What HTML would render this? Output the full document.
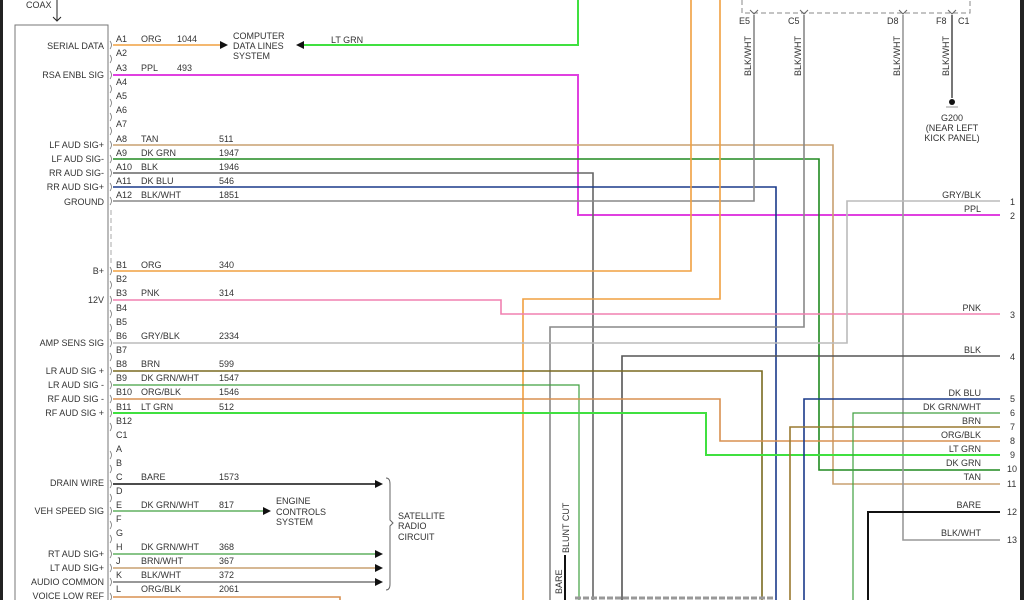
<!DOCTYPE html>
<html><head><meta charset="utf-8"><style>
html,body{margin:0;padding:0;background:#fff;}
svg{display:block;}
text{font-family:"Liberation Sans",sans-serif;font-size:9px;fill:#333;}
.r{text-anchor:end;}
</style></head><body>
<svg width="1024" height="600" viewBox="0 0 1024 600" xmlns="http://www.w3.org/2000/svg">
<rect x="0" y="0" width="3" height="600" fill="#222"/>
<rect x="1020" y="0" width="4" height="600" fill="#222"/>
<text x="26" y="8">COAX</text>
<line x1="57" y1="0" x2="57" y2="20" stroke="#222"/>
<path d="M53,17 L57,21 L61,17" fill="none" stroke="#222"/>
<path d="M15,600 V25 H108 V600" fill="none" stroke="#777"/>
<line x1="111" y1="210" x2="111" y2="265" stroke="#aaa" stroke-dasharray="5,3"/>
<g fill="none" stroke-width="1.6">
<line x1="113" y1="45" x2="222" y2="45" stroke="#f0a040"/>
<path d="M578,0 V45 H300" stroke="#40e040" stroke-width="2"/>
<path d="M113,75 H578 V215 H1000" stroke="#e040e0" stroke-width="2"/>
<path d="M113,145 H833 V484 H1000" stroke="#c8a070"/>
<path d="M113,159 H819 V470 H1000" stroke="#208a20"/>
<path d="M113,173 H593 V600" stroke="#666"/>
<path d="M113,187 H776 V600" stroke="#1a3a8a"/>
<path d="M113,201 H754 V15" stroke="#888"/>
<path d="M804,15 V327 H550 V600" stroke="#888"/>
<path d="M903,15 V540 H1000" stroke="#999"/>
<path d="M952,15 V98" stroke="#555"/>
<path d="M113,271 H691 V0" stroke="#f0a040"/>
<path d="M720,0 V299 H523 V600" stroke="#f0a040"/>
<path d="M113,300 H501 V314 H1000" stroke="#f080b0"/>
<path d="M113,343 H847 V201 H1000" stroke="#bbb"/>
<path d="M1000,356 H622 V600" stroke="#555"/>
<path d="M113,371 H762 V600" stroke="#7a6a20"/>
<path d="M113,385 H579 V600" stroke="#40a040" stroke-width="1.2"/>
<path d="M113,399 H720 V441 H1000" stroke="#d89050"/>
<path d="M113,413 H706 V455 H1000" stroke="#40e040" stroke-width="2"/>
<path d="M1000,399 H804 V600" stroke="#1a3a8a"/>
<path d="M1000,413 H853 V600" stroke="#40a040" stroke-width="1.2"/>
<path d="M1000,427 H790 V600" stroke="#9a7a30"/>
<path d="M1000,512 H868 V600" stroke="#111" stroke-width="2"/>
<line x1="113" y1="484" x2="375" y2="484" stroke="#111"/>
<line x1="113" y1="511" x2="265" y2="511" stroke="#40a040" stroke-width="1.2"/>
<line x1="113" y1="554" x2="375" y2="554" stroke="#40a040" stroke-width="1.2"/>
<line x1="113" y1="568" x2="375" y2="568" stroke="#c8a070"/>
<line x1="113" y1="582" x2="375" y2="582" stroke="#777"/>
<path d="M113,597 H340 V600" stroke="#d89050"/>
<path d="M565,555 V600" stroke="#111" stroke-width="2"/>
</g>
<g fill="none" stroke="#777" stroke-width="0.8">
<path d="M110,41 q3,4 0,8"/><path d="M110,55 q3,4 0,8"/><path d="M110,71 q3,4 0,8"/><path d="M110,85 q3,4 0,8"/><path d="M110,99 q3,4 0,8"/><path d="M110,113 q3,4 0,8"/><path d="M110,127 q3,4 0,8"/><path d="M110,141 q3,4 0,8"/><path d="M110,155 q3,4 0,8"/><path d="M110,169 q3,4 0,8"/><path d="M110,183 q3,4 0,8"/><path d="M110,197 q3,4 0,8"/>
<path d="M110,267 q3,4 0,8"/><path d="M110,281 q3,4 0,8"/><path d="M110,296 q3,4 0,8"/><path d="M110,310 q3,4 0,8"/><path d="M110,324 q3,4 0,8"/><path d="M110,339 q3,4 0,8"/><path d="M110,353 q3,4 0,8"/><path d="M110,367 q3,4 0,8"/><path d="M110,381 q3,4 0,8"/><path d="M110,395 q3,4 0,8"/><path d="M110,409 q3,4 0,8"/><path d="M110,423 q3,4 0,8"/>
<path d="M110,451 q3,4 0,8"/><path d="M110,465 q3,4 0,8"/><path d="M110,480 q3,4 0,8"/><path d="M110,494 q3,4 0,8"/><path d="M110,507 q3,4 0,8"/><path d="M110,521 q3,4 0,8"/><path d="M110,535 q3,4 0,8"/><path d="M110,550 q3,4 0,8"/><path d="M110,564 q3,4 0,8"/><path d="M110,578 q3,4 0,8"/><path d="M110,593 q3,4 0,8"/>
</g>
<g fill="#111">
<path d="M220,41 L228,45 L220,49Z"/>
<path d="M304,41 L296,45 L304,49Z"/>
<path d="M375,480 L383,484 L375,488Z"/>
<path d="M263,507 L271,511 L263,515Z"/>
<path d="M375,550 L383,554 L375,558Z"/>
<path d="M375,564 L383,568 L375,572Z"/>
<path d="M375,578 L383,582 L375,586Z"/>
<circle cx="952" cy="102" r="3"/>
</g>
<line x1="946" y1="107" x2="958" y2="107" stroke="#999"/>
<path d="M386,478 Q390,478 390,484 V520 L393,523 L390,526 V584 Q390,590 386,590" fill="none" stroke="#666"/>
<path d="M742,0 V13 H970 V0" fill="none" stroke="#888" stroke-dasharray="5,3"/>
<path d="M575,598 H775" stroke="#999" stroke-width="3" stroke-dasharray="6,2"/>
<g fill="none" stroke="#666">
<path d="M750,10 L754,14 L758,10"/><path d="M800,10 L804,14 L808,10"/><path d="M899,10 L903,14 L907,10"/><path d="M948,10 L952,14 L956,10"/>
</g>
<text x="739" y="24">E5</text><text x="788" y="24">C5</text><text x="887" y="24">D8</text><text x="936" y="24">F8</text><text x="958" y="24">C1</text>
<g>
<text transform="translate(751,76) rotate(-90)">BLK/WHT</text>
<text transform="translate(801,76) rotate(-90)">BLK/WHT</text>
<text transform="translate(900,76) rotate(-90)">BLK/WHT</text>
<text transform="translate(949,76) rotate(-90)">BLK/WHT</text>
<text transform="translate(569,553) rotate(-90)">BLUNT CUT</text>
<text transform="translate(562,594) rotate(-90)">BARE</text>
</g>
<text x="952" y="121" text-anchor="middle">G200</text>
<text x="952" y="131" text-anchor="middle">(NEAR LEFT</text>
<text x="952" y="141" text-anchor="middle">KICK PANEL)</text>
<g>
<text class="r" x="104" y="49">SERIAL DATA</text>
<text class="r" x="104" y="78">RSA ENBL SIG</text>
<text class="r" x="104" y="148">LF AUD SIG+</text>
<text class="r" x="104" y="162">LF AUD SIG-</text>
<text class="r" x="104" y="176">RR AUD SIG-</text>
<text class="r" x="104" y="190">RR AUD SIG+</text>
<text class="r" x="104" y="205">GROUND</text>
<text class="r" x="104" y="274">B+</text>
<text class="r" x="104" y="303">12V</text>
<text class="r" x="104" y="346">AMP SENS SIG</text>
<text class="r" x="104" y="374">LR AUD SIG +</text>
<text class="r" x="104" y="388">LR AUD SIG -</text>
<text class="r" x="104" y="402">RF AUD SIG -</text>
<text class="r" x="104" y="416">RF AUD SIG +</text>
<text class="r" x="104" y="486">DRAIN WIRE</text>
<text class="r" x="104" y="514">VEH SPEED SIG</text>
<text class="r" x="104" y="557">RT AUD SIG+</text>
<text class="r" x="104" y="571">LT AUD SIG+</text>
<text class="r" x="104" y="585">AUDIO COMMON</text>
<text class="r" x="104" y="599">VOICE LOW REF</text>
</g>
<g>
<text x="116" y="42">A1</text><text x="141" y="42">ORG</text><text x="177" y="42">1044</text>
<text x="116" y="56">A2</text>
<text x="116" y="71">A3</text><text x="141" y="71">PPL</text><text x="177" y="71">493</text>
<text x="116" y="85">A4</text><text x="116" y="99">A5</text><text x="116" y="113">A6</text><text x="116" y="127">A7</text>
<text x="116" y="142">A8</text><text x="141" y="142">TAN</text><text x="219" y="142">511</text>
<text x="116" y="156">A9</text><text x="141" y="156">DK GRN</text><text x="219" y="156">1947</text>
<text x="116" y="170">A10</text><text x="141" y="170">BLK</text><text x="219" y="170">1946</text>
<text x="116" y="184">A11</text><text x="141" y="184">DK BLU</text><text x="219" y="184">546</text>
<text x="116" y="198">A12</text><text x="141" y="198">BLK/WHT</text><text x="219" y="198">1851</text>
<text x="116" y="268">B1</text><text x="141" y="268">ORG</text><text x="219" y="268">340</text>
<text x="116" y="282">B2</text>
<text x="116" y="296">B3</text><text x="141" y="296">PNK</text><text x="219" y="296">314</text>
<text x="116" y="311">B4</text><text x="116" y="325">B5</text>
<text x="116" y="339">B6</text><text x="141" y="339">GRY/BLK</text><text x="219" y="339">2334</text>
<text x="116" y="353">B7</text>
<text x="116" y="367">B8</text><text x="141" y="367">BRN</text><text x="219" y="367">599</text>
<text x="116" y="381">B9</text><text x="141" y="381">DK GRN/WHT</text><text x="219" y="381">1547</text>
<text x="116" y="395">B10</text><text x="141" y="395">ORG/BLK</text><text x="219" y="395">1546</text>
<text x="116" y="410">B11</text><text x="141" y="410">LT GRN</text><text x="219" y="410">512</text>
<text x="116" y="424">B12</text><text x="116" y="438">C1</text>
<text x="116" y="452">A</text><text x="116" y="466">B</text>
<text x="116" y="480">C</text><text x="141" y="480">BARE</text><text x="219" y="480">1573</text>
<text x="116" y="494">D</text>
<text x="116" y="508">E</text><text x="141" y="508">DK GRN/WHT</text><text x="219" y="508">817</text>
<text x="116" y="522">F</text><text x="116" y="536">G</text>
<text x="116" y="550">H</text><text x="141" y="550">DK GRN/WHT</text><text x="219" y="550">368</text>
<text x="116" y="564">J</text><text x="141" y="564">BRN/WHT</text><text x="219" y="564">367</text>
<text x="116" y="578">K</text><text x="141" y="578">BLK/WHT</text><text x="219" y="578">372</text>
<text x="116" y="592">L</text><text x="141" y="592">ORG/BLK</text><text x="219" y="592">2061</text>
</g>
<text x="233" y="39">COMPUTER</text><text x="233" y="49">DATA LINES</text><text x="233" y="59">SYSTEM</text>
<text x="331" y="43">LT GRN</text>
<text x="276" y="504">ENGINE</text><text x="276" y="515">CONTROLS</text><text x="276" y="525">SYSTEM</text>
<text x="398" y="519">SATELLITE</text><text x="398" y="529">RADIO</text><text x="398" y="540">CIRCUIT</text>
<g>
<text class="r" x="981" y="198">GRY/BLK</text>
<text class="r" x="981" y="212">PPL</text>
<text class="r" x="981" y="311">PNK</text>
<text class="r" x="981" y="353">BLK</text>
<text class="r" x="981" y="396">DK BLU</text>
<text class="r" x="981" y="410">DK GRN/WHT</text>
<text class="r" x="981" y="424">BRN</text>
<text class="r" x="981" y="438">ORG/BLK</text>
<text class="r" x="981" y="452">LT GRN</text>
<text class="r" x="981" y="466">DK GRN</text>
<text class="r" x="981" y="480">TAN</text>
<text class="r" x="981" y="508">BARE</text>
<text class="r" x="981" y="536">BLK/WHT</text>
</g>
<g>
<text x="1010" y="205">1</text><text x="1010" y="219">2</text><text x="1010" y="318">3</text><text x="1010" y="360">4</text>
<text x="1010" y="402">5</text><text x="1010" y="416">6</text><text x="1010" y="430">7</text><text x="1010" y="444">8</text>
<text x="1010" y="458">9</text><text x="1007" y="472">10</text><text x="1007" y="487">11</text><text x="1007" y="515">12</text><text x="1007" y="543">13</text>
</g>
</svg>
</body></html>
